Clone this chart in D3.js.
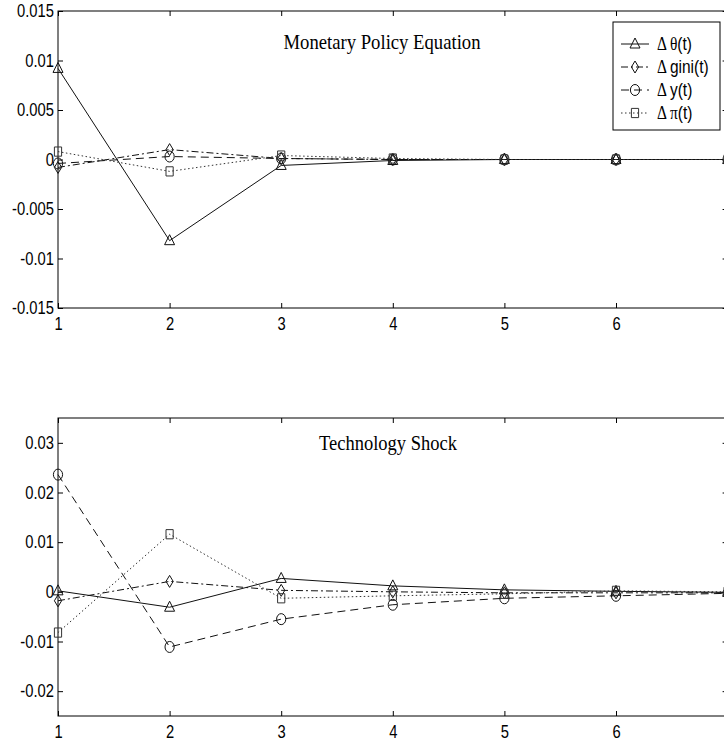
<!DOCTYPE html>
<html>
<head>
<meta charset="utf-8">
<script src="https://cdn.jsdelivr.net/npm/d3@7"></script>
<style>
  body { margin: 0; background: #fff; overflow: hidden; }
  svg { display: block; }
  .tick text { font-family: "Liberation Sans", Arial, sans-serif; font-size: 18px; fill: #000; }
  .title { font-family: "Liberation Serif", "Times New Roman", serif; font-size: 22px; fill: #000; }
</style>
</head>
<body>
<script>
// periods
var steps = [1, 2, 3, 4, 5, 6, 7];
var xTicks = [1, 2, 3, 4, 5, 6, 7];
var xLabelled = [1, 2, 3, 4, 5, 6];   // 7 sits past the right edge of the picture

// monetary policy shock responses
var mp_theta = [0.0092, -0.0082, -0.0006, -0.0001, 0, 0, 0];
var mp_gini  = [-0.0008, 0.0010, 0.0001, 0, 0, 0, 0];
var mp_y     = [-0.0004, 0.0003, 0.0001, 0, 0, 0, 0];
var mp_pi    = [0.0008, -0.0012, 0.0004, 0.0001, 0, 0, 0];
var mpTicks  = [-0.015, -0.01, -0.005, 0, 0.005, 0.01, 0.015];

// technology shock responses
var ts_theta = [0.0002, -0.0031, 0.0027, 0.0012, 0.0004, 0.0001, -0.0001];
var ts_gini  = [-0.0018, 0.0021, 0.0003, 0.0, -0.0002, -0.0002, -0.0002];
var ts_y     = [0.0236, -0.0111, -0.0055, -0.0026, -0.0013, -0.0008, -0.0003];
var ts_pi    = [-0.0082, 0.0116, -0.0013, -0.0008, -0.0004, 0.0002, 0.0];
var tsTicks  = [-0.02, -0.01, 0, 0.01, 0.02, 0.03];

var legendNames = ["θ(t)", "gini(t)", "y(t)", "π(t)"];

var window_w = 724, window_h = 744;
var left = 58, right = 727.6;

var styles = [
  {dash: null,        marker: "tri",  col: "#111"},
  {dash: "7,3,2,3",   marker: "dia",  col: "#111"},
  {dash: "8,5",       marker: "circ", col: "#111"},
  {dash: "1.5,2.5",   marker: "sq",   col: "#333"}
];

function markerPath(type) {
  if (type == "tri") return "M0,-6L5,4L-5,4Z";
  if (type == "dia") return "M0,-6L3.6,0L0,6L-3.6,0Z";
  if (type == "sq")  return "M-3.6,-4.6H3.6V4.6H-3.6Z";
  // circle, a bit taller than wide like the original
  return "M0,-5.5A4.6,5.5 0 1,1 0,5.5A4.6,5.5 0 1,1 0,-5.5Z";
}

var svg = d3.select("body").append("svg")
    .attr("width", window_w)
    .attr("height", window_h);

function fmt(d) { return d === 0 ? "0" : String(d); }

function drawPanel(top, bottom, domain, yticks, series, title, titleX, titleY, titleLen) {
  var xScale = d3.scaleLinear().domain([1, 7]).range([left, right]);
  var yScale = d3.scaleLinear().domain(domain).range([bottom, top]);
  var g = svg.append("g");

  g.append("rect")
    .attr("x", left).attr("y", top)
    .attr("width", right - left).attr("height", bottom - top)
    .attr("fill", "none").attr("stroke", "#000").attr("stroke-width", 1);

  var ax = [
    g.append("g").attr("transform", "translate(0," + bottom + ")")
      .call(d3.axisBottom(xScale).tickValues(xLabelled).tickSizeInner(-5).tickSizeOuter(0).tickPadding(9).tickFormat(d3.format("d"))),
    g.append("g").attr("transform", "translate(0," + top + ")")
      .call(d3.axisTop(xScale).tickValues(xTicks).tickSizeInner(-5).tickSizeOuter(0).tickFormat("")),
    g.append("g").attr("transform", "translate(" + left + ",0)")
      .call(d3.axisLeft(yScale).tickValues(yticks).tickSizeInner(-5).tickSizeOuter(0).tickPadding(5).tickFormat(fmt)),
    g.append("g").attr("transform", "translate(" + right + ",0)")
      .call(d3.axisRight(yScale).tickValues(yticks).tickSizeInner(-5).tickSizeOuter(0).tickFormat(""))
  ];
  ax.forEach(function(a) {
    a.select(".domain").remove();
    a.selectAll("line").attr("stroke", "#000");
    // the original lettering is tall and narrow
    a.selectAll("text").attr("transform", "scale(0.82,1)");
  });

  g.append("text").attr("class", "title")
    .attr("x", titleX).attr("y", titleY)
    .attr("text-anchor", "middle")
    .attr("textLength", titleLen).attr("lengthAdjust", "spacingAndGlyphs")
    .text(title);

  var line = d3.line()
    .x(function(d, i) { return xScale(steps[i]); })
    .y(function(d) { return yScale(d); });

  series.forEach(function(vals, k) {
    var st = styles[k];
    g.append("path")
      .attr("d", line(vals))
      .attr("fill", "none")
      .attr("stroke", st.col)
      .attr("stroke-width", 1)
      .attr("stroke-dasharray", st.dash);
    g.selectAll(".m" + k).data(vals).enter()
      .append("path")
      .attr("class", "m" + k)
      .attr("d", markerPath(st.marker))
      .attr("transform", function(d, i) { return "translate(" + xScale(steps[i]) + "," + yScale(d) + ")"; })
      .attr("fill", "none")
      .attr("stroke", st.col)
      .attr("stroke-width", 1);
  });
  return g;
}

drawPanel(11, 308, [-0.015, 0.015], mpTicks, [mp_theta, mp_gini, mp_y, mp_pi],
  "Monetary Policy Equation", 382, 49, 197);
drawPanel(418, 716, [-0.025, 0.035], tsTicks, [ts_theta, ts_gini, ts_y, ts_pi],
  "Technology Shock", 388, 450, 138);

// legend
var lg = svg.append("g");
lg.append("rect")
  .attr("x", 613).attr("y", 22).attr("width", 107).attr("height", 108)
  .attr("fill", "#fff").attr("stroke", "#000").attr("stroke-width", 1);

legendNames.forEach(function(name, k) {
  var ly = 44 + k * 23;
  var st = styles[k];
  lg.append("line")
    .attr("x1", 621).attr("x2", 649).attr("y1", ly).attr("y2", ly)
    .attr("stroke", st.col).attr("stroke-dasharray", st.dash);
  lg.append("path")
    .attr("d", markerPath(st.marker))
    .attr("transform", "translate(635," + ly + ")")
    .attr("fill", "none").attr("stroke", st.col);
  var t = lg.append("text")
    .attr("transform", "translate(657," + (ly + 6) + ") scale(0.86,1)")
    .style("font-size", "18px").attr("fill", "#000");
  t.append("tspan").style("font-family", "'Liberation Serif', serif").text("Δ ");
  var base = name.replace("(t)", "");
  var greek = (base == "θ" || base == "π");
  t.append("tspan")
    .style("font-family", greek ? "'Liberation Serif', serif" : "'Liberation Sans', sans-serif")
    .text(base);
  t.append("tspan")
    .style("font-family", "'Liberation Sans', sans-serif")
    .text("(t)");
});
</script>
</body>
</html>
